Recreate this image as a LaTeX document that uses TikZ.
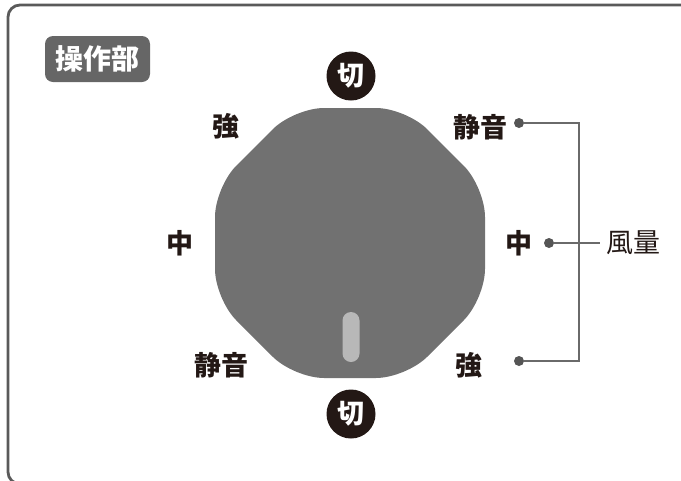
\documentclass[tikz,border=0pt]{standalone}
\usepackage{fontspec}
\setmainfont{Noto Sans CJK JP}
\definecolor{ink}{HTML}{231815}
\definecolor{frame}{HTML}{5A5A5A}
\definecolor{knob}{HTML}{717171}
\definecolor{badge}{HTML}{666666}
\definecolor{slider}{HTML}{B8B8B8}
\definecolor{lead}{HTML}{6A6A6A}
\definecolor{dotc}{HTML}{555555}
\tikzset{
  lbl/.style={text=ink, font=\fontsize{27}{27}\selectfont\bfseries, inner sep=0pt},
  offmark/.style={circle, fill=ink, text=white, minimum size=49pt, inner sep=0pt, font=\fontsize{27}{27}\selectfont\bfseries},
  dotmark/.style={circle, fill=dotc, minimum size=10pt, inner sep=0pt},
  leadline/.style={draw=lead, line width=1.3pt},
}
\begin{document}
\begin{tikzpicture}[x=1pt,y=-1pt]
\useasboundingbox (0,0) rectangle (681,480);
% frame
\draw[frame, line width=2.8pt, rounded corners=12pt] (8,5) rectangle (695,484);
% badge
\node[fill=badge, rounded corners=8pt, minimum width=105pt, minimum height=46pt, inner sep=0pt, text=white, font=\fontsize{28}{28}\selectfont\bfseries] (badge) at (97.5,59) {操作部};
% knob
\fill[knob, rounded corners=30pt] (294,108) -- (406,108) -- (485,187) -- (485,299) -- (406,378) -- (294,378) -- (215,299) -- (215,187) -- cycle;
\node[fill=slider, rounded corners=8.5pt, minimum width=17pt, minimum height=50pt, inner sep=0pt] (slide) at (351,337) {};
% off markers
\node[offmark] (offtop) at (351,76) {切};
\node[offmark] (offbot) at (351,414) {切};
% left labels
\node[lbl] (lstrong) at (226,126) {強};
\node[lbl] (lmid) at (180,243) {中};
\node[lbl] (lquiet) at (221,365) {静音};
% right labels
\node[lbl] (rquiet) at (480,127) {静音};
\node[lbl] (rmid) at (519,243) {中};
\node[lbl] (rstrong) at (469,365) {強};
% dots
\node[dotmark] (d1) at (519,123) {};
\node[dotmark] (d2) at (549,243) {};
\node[dotmark] (d3) at (519,361) {};
\coordinate (c1) at (579,123);
\coordinate (c3) at (579,361);
\node[text=ink, font=\fontsize{27}{27}\selectfont, inner sep=0pt, anchor=west] (fy) at (606,243) {風量};
\draw[leadline] (d1) -- (c1) -- (c3) -- (d3);
\draw[leadline] (d2) -- ([xshift=-6pt]fy.west);
\end{tikzpicture}
\end{document}
